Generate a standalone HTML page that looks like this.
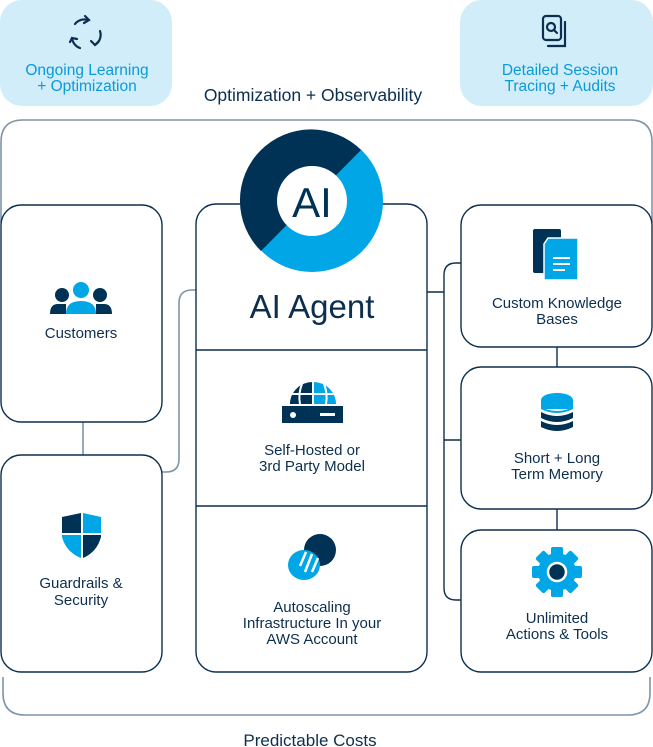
<!DOCTYPE html>
<html><head><meta charset="utf-8"><style>
html,body{margin:0;padding:0;background:#fff}
svg{display:block}
text{font-family:"Liberation Sans",sans-serif}
</style></head><body>
<svg width="653" height="747" viewBox="0 0 653 747" xmlns="http://www.w3.org/2000/svg">
<rect x="0" y="0" width="172" height="106" rx="22" fill="#d1edf9"/>
<rect x="460" y="0" width="193" height="106" rx="22" fill="#d1edf9"/>
<g fill="none" stroke="#0d2f4f" stroke-width="2.2" stroke-linecap="round">
<path d="M75,24 A12,12 0 0 1 88,20"/><path d="M85,16 L89,20 L84,23"/>
<path d="M100,31 A12,12 0 0 1 95,45"/><path d="M99,41 L95,45 L91,41"/>
<path d="M80,48 A12,12 0 0 1 72,38"/><path d="M70,42 L72,38 L77,39"/>
<rect x="543" y="16" width="18" height="24" rx="3"/><path d="M565,22 V46 H548"/>
<circle cx="551" cy="27" r="4"/><path d="M554,30 L557,33"/>
</g>
<text x="87" y="75" text-anchor="middle" font-size="15.5" fill="#0a9ad9">Ongoing Learning</text>
<text x="87" y="91" text-anchor="middle" font-size="15.5" fill="#0a9ad9">+ Optimization</text>
<text x="560" y="75" text-anchor="middle" font-size="15.5" fill="#0a9ad9">Detailed Session</text>
<text x="560" y="91" text-anchor="middle" font-size="15.5" fill="#0a9ad9">Tracing + Audits</text>
<text x="313" y="101" text-anchor="middle" font-size="17.5" fill="#0d2f4f">Optimization + Observability</text>
<g fill="none" stroke="#7f94a8" stroke-width="1.6">
<path d="M1,223 V142 Q1,120 23,120 H630 Q652,120 652,142 V223"/>
<path d="M3,677 V693 Q3,715 25,715 H628 Q650,715 650,693 V677"/>
<path d="M83,422 V455"/>
<path d="M162,472 H166 Q179,472 179,459 V303 Q179,290 192,290 H196"/>
</g>
<g fill="none" stroke="#0d2f4f" stroke-width="1.4">
<path d="M427,292 H444"/>
<path d="M461,263 H456 Q444,263 444,275 V588 Q444,600 456,600 H461"/>
<path d="M444,440 H461"/>
<path d="M557,347 V367 M557,509 V530"/>
</g>
<g fill="#fff" stroke="#0d2f4f" stroke-width="1.4">
<rect x="1" y="205" width="161" height="217" rx="20"/>
<rect x="1" y="455" width="161" height="217" rx="20"/>
<rect x="196" y="204" width="231" height="468" rx="20"/>
<rect x="461" y="205" width="191" height="142" rx="20"/>
<rect x="461" y="367" width="191" height="142" rx="20"/>
<rect x="461" y="530" width="191" height="142" rx="20"/>
<path d="M196,350 H427 M196,506 H427" fill="none"/>
</g>
<circle cx="312" cy="201" r="71" fill="#00a6e6"/>
<path d="M361,150 A71,71 0 1 0 261,251 Z" fill="#003255"/>
<circle cx="312" cy="201" r="35" fill="#fff"/>
<text x="312" y="217" text-anchor="middle" font-size="42" fill="#003255">AI</text>
<text x="312" y="318" text-anchor="middle" font-size="33" fill="#0d2f4f">AI Agent</text>
<!-- customers icon -->
<g fill="#003255"><circle cx="62" cy="295" r="7"/><circle cx="100" cy="295" r="7"/>
<path d="M50,314 Q50,304 58,304 H66 V314 Z M112,314 Q112,304 104,304 H96 V314 Z"/></g>
<g fill="#00a6e6"><circle cx="81" cy="290" r="8"/><path d="M66,314 Q66,301 81,301 Q96,301 96,314 Z"/></g>
<text x="81" y="338" text-anchor="middle" font-size="15" fill="#0d2f4f">Customers</text>
<!-- shield -->
<path d="M62,517 L81,513 V533 H62 Z" fill="#003255"/>
<path d="M83,513 L101,517 V533 H83 Z" fill="#00a6e6"/>
<path d="M62,535 H81 V558 Q66,552 62,537 Z" fill="#00a6e6"/>
<path d="M83,535 H101 V537 Q97,552 83,558 Z" fill="#003255"/>
<text x="81" y="588" text-anchor="middle" font-size="15" fill="#0d2f4f">Guardrails &amp;</text>
<text x="81" y="605" text-anchor="middle" font-size="15" fill="#0d2f4f">Security</text>
<!-- globe server -->
<path d="M290,404 A23,22 0 0 1 336,404 Z" fill="#00a6e6"/>
<path d="M290,404 A23,22 0 0 1 313,382 V404 Z" fill="#003255"/>
<path d="M289,394 H337 M313,382 V404 M302,384 Q298,394 300,404 M324,384 Q328,394 326,404" stroke="#fff" stroke-width="2" fill="none"/>
<rect x="282" y="406" width="61" height="17" fill="#003255"/>
<circle cx="293" cy="415" r="3" fill="#fff"/><rect x="320" y="413" width="15" height="3" fill="#fff"/>
<text x="312" y="455" text-anchor="middle" font-size="15" fill="#0d2f4f">Self-Hosted or</text>
<text x="312" y="471" text-anchor="middle" font-size="15" fill="#0d2f4f">3rd Party Model</text>
<!-- autoscale -->
<ellipse cx="320" cy="550" rx="16" ry="16" fill="#003255"/>
<ellipse cx="304" cy="565" rx="16" ry="15" fill="#00a6e6"/>
<path d="M306,552 L300,566 M312,554 L305,572 M318,558 L312,572" stroke="#fff" stroke-width="2.5"/>
<text x="312" y="612" text-anchor="middle" font-size="15" fill="#0d2f4f">Autoscaling</text>
<text x="312" y="628" text-anchor="middle" font-size="15" fill="#0d2f4f">Infrastructure In your</text>
<text x="312" y="644" text-anchor="middle" font-size="15" fill="#0d2f4f">AWS Account</text>
<!-- doc -->
<rect x="533" y="229" width="28" height="44" rx="2" fill="#003255"/>
<path d="M548,238 H578 V280 H544 V244 Z" fill="#00a6e6" stroke="#fff" stroke-width="1.5"/>
<path d="M553,258 H570 M553,264 H570 M553,270 H565" stroke="#fff" stroke-width="2"/>
<text x="557" y="308" text-anchor="middle" font-size="15" fill="#0d2f4f">Custom Knowledge</text>
<text x="557" y="324" text-anchor="middle" font-size="15" fill="#0d2f4f">Bases</text>
<!-- db -->
<ellipse cx="557" cy="400" rx="16" ry="7" fill="#00a6e6"/>
<rect x="541" y="400" width="32" height="9" fill="#00a6e6"/>
<path d="M541,412 V418 Q557,426 573,418 V412 Q557,420 541,412 Z" fill="#003255"/>
<path d="M541,421 V427 Q557,435 573,427 V421 Q557,429 541,421 Z" fill="#003255"/>
<path d="M541,407 Q557,415 573,407 V409 Q557,417 541,409 Z" fill="#00a6e6"/>
<text x="557" y="463" text-anchor="middle" font-size="15" fill="#0d2f4f">Short + Long</text>
<text x="557" y="479" text-anchor="middle" font-size="15" fill="#0d2f4f">Term Memory</text>
<!-- gear -->
<g fill="#00a6e6" transform="translate(557,572)">
<circle r="19"/>
<rect x="-6" y="-25" width="12" height="50" rx="2"/>
<rect x="-6" y="-25" width="12" height="50" rx="2" transform="rotate(45)"/>
<rect x="-6" y="-25" width="12" height="50" rx="2" transform="rotate(90)"/>
<rect x="-6" y="-25" width="12" height="50" rx="2" transform="rotate(135)"/>
<circle r="9" fill="#003255" stroke="#fff" stroke-width="2.5"/>
</g>
<text x="557" y="623" text-anchor="middle" font-size="15" fill="#0d2f4f">Unlimited</text>
<text x="557" y="639" text-anchor="middle" font-size="15" fill="#0d2f4f">Actions &amp; Tools</text>
<text x="310" y="746" text-anchor="middle" font-size="17" fill="#0d2f4f">Predictable Costs</text>
</svg>
</body></html>
